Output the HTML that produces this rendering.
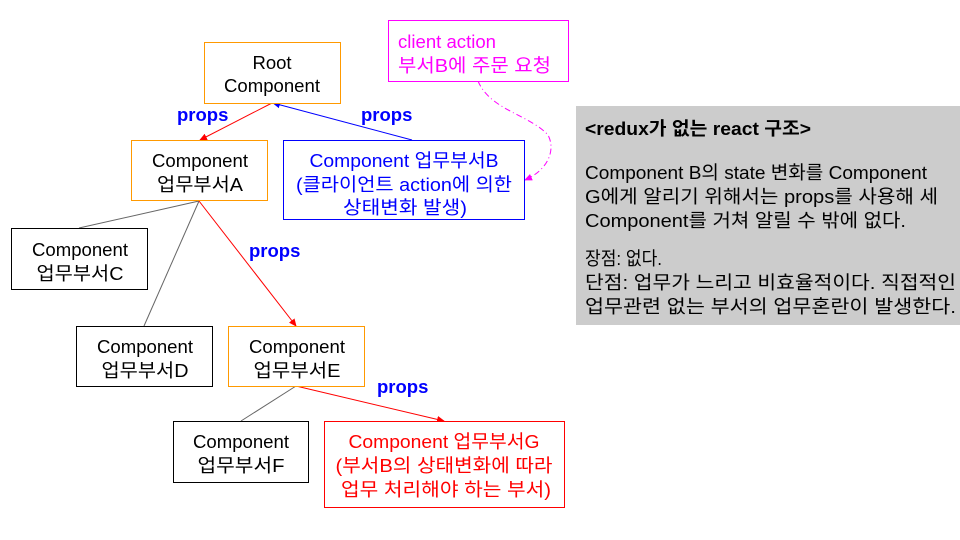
<!DOCTYPE html>
<html><head><meta charset="utf-8"><style>
html,body{margin:0;padding:0;background:#fff;width:960px;height:540px;overflow:hidden}
svg{display:block}
text{font-family:"Liberation Sans","Noto Sans CJK KR",sans-serif;font-size:18.5px}
.b{font-weight:bold;fill:#0000ff}
</style></head><body>
<svg width="960" height="540" viewBox="0 0 960 540">
<defs>
<marker id="ar" markerWidth="8" markerHeight="8" refX="7" refY="4" orient="auto" markerUnits="userSpaceOnUse"><path d="M0,0.5 L8,4 L0,7.5z" fill="#ff0000"/></marker>
<marker id="ab" markerWidth="8" markerHeight="8" refX="7" refY="4" orient="auto" markerUnits="userSpaceOnUse"><path d="M0,0.5 L8,4 L0,7.5z" fill="#0000ff"/></marker>
<marker id="am" markerWidth="8" markerHeight="8" refX="7" refY="4" orient="auto" markerUnits="userSpaceOnUse"><path d="M0,0.5 L8,4 L0,7.5z" fill="#ff00ff"/></marker>
</defs>
<rect x="576" y="106" width="384" height="219" fill="#cccccc"/>
<text x="585" y="135" style="font-weight:bold" textLength="226" lengthAdjust="spacingAndGlyphs">&lt;redux가 없는 react 구조&gt;</text>
<text x="585" y="179" textLength="342" lengthAdjust="spacingAndGlyphs">Component B의 state 변화를 Component</text>
<text x="585" y="203" textLength="353" lengthAdjust="spacingAndGlyphs">G에게 알리기 위해서는 props를 사용해 세</text>
<text x="585" y="227" textLength="321" lengthAdjust="spacingAndGlyphs">Component를 거쳐  알릴 수 밖에 없다.</text>
<text x="585" y="265" textLength="77" lengthAdjust="spacingAndGlyphs">장점: 없다.</text>
<text x="585" y="289" textLength="371" lengthAdjust="spacingAndGlyphs">단점: 업무가 느리고 비효율적이다. 직접적인</text>
<text x="585" y="313" textLength="371" lengthAdjust="spacingAndGlyphs">업무관련 없는 부서의 업무혼란이 발생한다.</text>

<line x1="199" y1="201" x2="79" y2="228" stroke="#666"/>
<line x1="199" y1="201" x2="144" y2="326" stroke="#666"/>
<line x1="296" y1="386" x2="241" y2="421" stroke="#666"/>
<line x1="272" y1="103" x2="200" y2="140" stroke="#ff0000" marker-end="url(#ar)"/>
<line x1="412" y1="140" x2="273" y2="103" stroke="#0000ff" marker-end="url(#ab)"/>
<line x1="199" y1="201" x2="296" y2="326" stroke="#ff0000" marker-end="url(#ar)"/>
<line x1="296" y1="386" x2="444" y2="421" stroke="#ff0000" marker-end="url(#ar)"/>
<path d="M478,81 C490,110 530,115 548,135 C556,150 548,170 525,180" fill="none" stroke="#ff00ff" stroke-dasharray="6,3,1,3" marker-end="url(#am)"/>

<text x="177" y="121" class="b">props</text>
<text x="361" y="121" class="b">props</text>
<text x="249" y="257" class="b">props</text>
<text x="377" y="393" class="b">props</text>

<rect x="204.5" y="42.5" width="136" height="61" fill="#fff" stroke="#ff9900"/>
<text x="272" y="69" text-anchor="middle">Root</text>
<text x="272" y="92" text-anchor="middle" textLength="96" lengthAdjust="spacingAndGlyphs">Component</text>

<rect x="131.5" y="140.5" width="136" height="60" fill="#fff" stroke="#ff9900"/>
<text x="200" y="167" text-anchor="middle" textLength="96" lengthAdjust="spacingAndGlyphs">Component</text>
<text x="200" y="191" text-anchor="middle" textLength="86" lengthAdjust="spacingAndGlyphs">업무부서A</text>

<rect x="283.5" y="140.5" width="241" height="79" fill="#fff" stroke="#0000ff"/>
<text x="404" y="167" text-anchor="middle" fill="#0000ff" textLength="189" lengthAdjust="spacingAndGlyphs">Component 업무부서B</text>
<text x="404" y="191" text-anchor="middle" fill="#0000ff" textLength="216" lengthAdjust="spacingAndGlyphs">(클라이언트 action에 의한</text>
<text x="405" y="214" text-anchor="middle" fill="#0000ff" textLength="124" lengthAdjust="spacingAndGlyphs">상태변화 발생)</text>

<rect x="388.5" y="20.5" width="180" height="61" fill="#fff" stroke="#ff00ff"/>
<text x="398" y="48" fill="#ff00ff" textLength="98" lengthAdjust="spacingAndGlyphs">client action</text>
<text x="398" y="72" fill="#ff00ff" textLength="153" lengthAdjust="spacingAndGlyphs">부서B에 주문 요청</text>

<rect x="11.5" y="228.5" width="136" height="61" fill="#fff" stroke="#000"/>
<text x="80" y="256" text-anchor="middle" textLength="96" lengthAdjust="spacingAndGlyphs">Component</text>
<text x="80" y="280" text-anchor="middle" textLength="87" lengthAdjust="spacingAndGlyphs">업무부서C</text>

<rect x="76.5" y="326.5" width="136" height="60" fill="#fff" stroke="#000"/>
<text x="145" y="353" text-anchor="middle" textLength="96" lengthAdjust="spacingAndGlyphs">Component</text>
<text x="145" y="377" text-anchor="middle" textLength="87" lengthAdjust="spacingAndGlyphs">업무부서D</text>

<rect x="228.5" y="326.5" width="136" height="60" fill="#fff" stroke="#ff9900"/>
<text x="297" y="353" text-anchor="middle" textLength="96" lengthAdjust="spacingAndGlyphs">Component</text>
<text x="297" y="377" text-anchor="middle" textLength="87" lengthAdjust="spacingAndGlyphs">업무부서E</text>

<rect x="173.5" y="421.5" width="135" height="61" fill="#fff" stroke="#000"/>
<text x="241" y="448" text-anchor="middle" textLength="96" lengthAdjust="spacingAndGlyphs">Component</text>
<text x="241" y="472" text-anchor="middle" textLength="87" lengthAdjust="spacingAndGlyphs">업무부서F</text>

<rect x="324.5" y="421.5" width="240" height="86" fill="#fff" stroke="#ff0000"/>
<text x="444" y="448" text-anchor="middle" fill="#ff0000" textLength="191" lengthAdjust="spacingAndGlyphs">Component 업무부서G</text>
<text x="444" y="472" text-anchor="middle" fill="#ff0000" textLength="217" lengthAdjust="spacingAndGlyphs">(부서B의 상태변화에 따라</text>
<text x="446" y="496" text-anchor="middle" fill="#ff0000" textLength="210" lengthAdjust="spacingAndGlyphs">업무 처리해야 하는 부서)</text>
</svg>
</body></html>
